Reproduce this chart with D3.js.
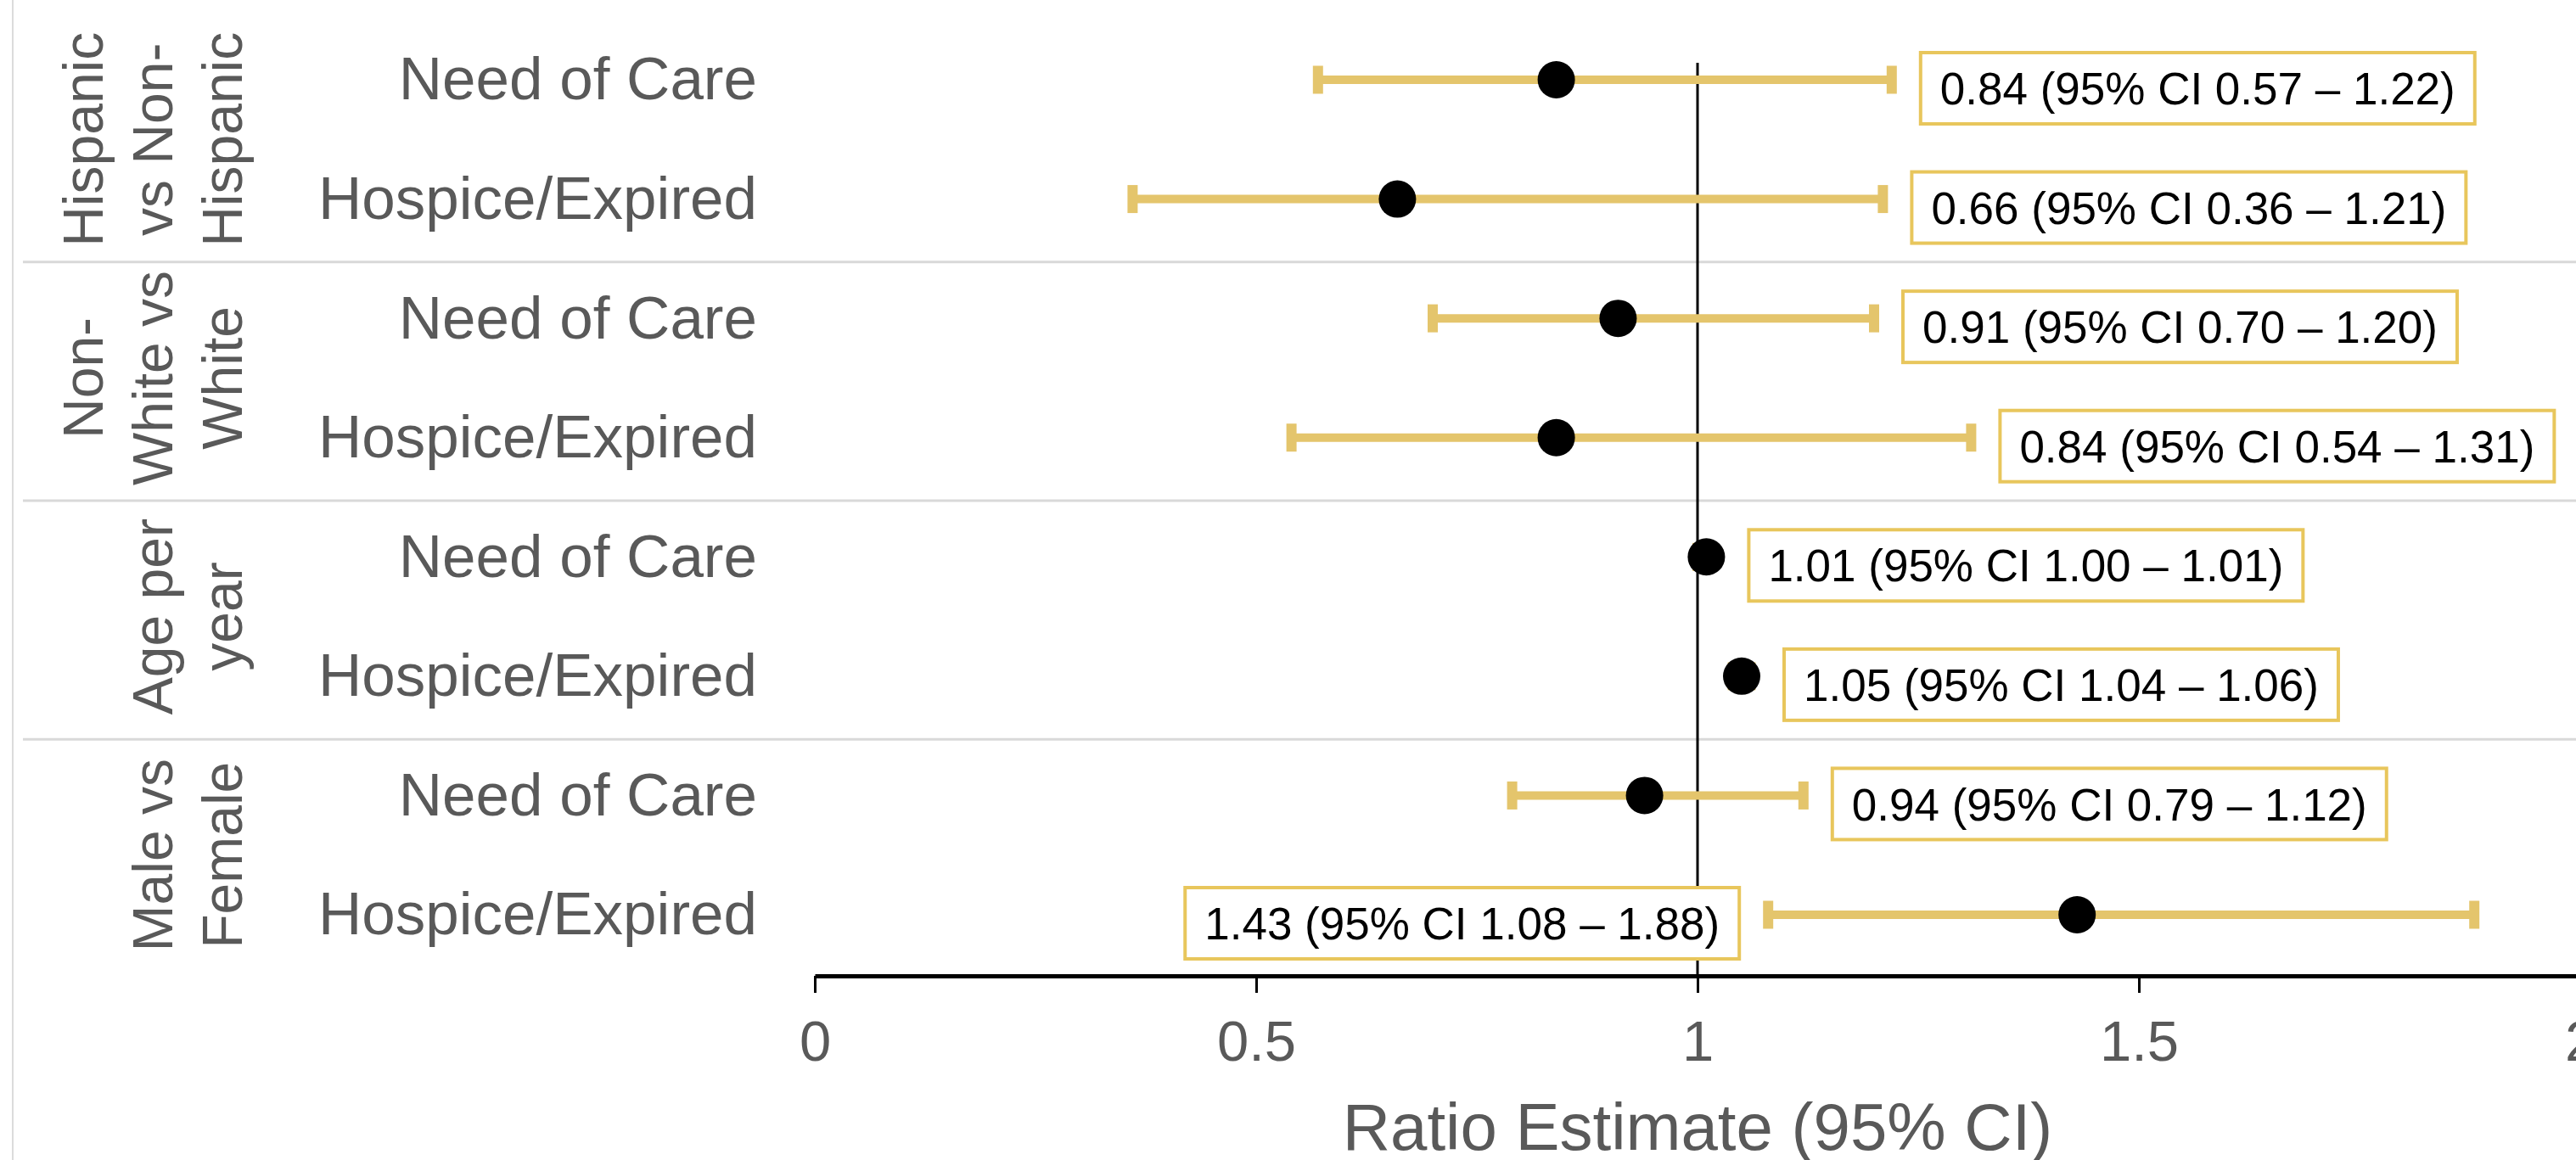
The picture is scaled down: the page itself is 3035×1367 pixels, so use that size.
<!DOCTYPE html>
<html>
<head>
<meta charset="utf-8">
<script src="https://cdn.jsdelivr.net/npm/d3@7"></script>
<style>
  html, body { margin: 0; padding: 0; background: #fff; }
  svg { display: block; font-family: "Liberation Sans", Arial, sans-serif; }
</style>
</head>
<body>
<svg id="chart" width="3035" height="1367"></svg>
<script>
// ---- data ----
const groupLines = [
  ["Hispanic", "vs Non-", "Hispanic"],
  ["Non-", "White vs", "White"],
  ["Age per", "year"],
  ["Male vs", "Female"]
];
const outcomes = ["Need of Care", "Hospice/Expired"];
const estimates = [0.84, 0.66, 0.91, 0.84, 1.01, 1.05, 0.94, 1.43];
const lower     = [0.57, 0.36, 0.70, 0.54, 1.00, 1.04, 0.79, 1.08];
const upper     = [1.22, 1.21, 1.20, 1.31, 1.01, 1.06, 1.12, 1.88];
const xTicks = [0, 0.5, 1, 1.5, 2];
const xTitle = "Ratio Estimate (95% CI)";

// ---- build rows ----
const rows = estimates.map((e, i) => ({
  id: i,
  group: Math.floor(i / 2),
  outcome: outcomes[i % 2],
  est: e, lo: lower[i], hi: upper[i]
}));
const fmt = d3.format(".2f");
rows.forEach(r => r.label = `${fmt(r.est)} (95% CI ${fmt(r.lo)} – ${fmt(r.hi)})`);

// ---- layout ----
const W = 3035, H = 1367;
const axisY = 1150;
const svg = d3.select("#chart");
const x = d3.scaleLinear().domain([0, 2]).range([960, 3040]);
const y = d3.scalePoint().domain(rows.map(r => r.id)).range([94, 1078]);

const grey = "#595959";
const barCol = "#E4C56C";
const boxCol = "#E8C65C";

// left border line
svg.append("line").attr("x1", 15).attr("x2", 15).attr("y1", 0).attr("y2", H)
  .attr("stroke", "#dcdcdc").attr("stroke-width", 2);

// group separators
for (let g = 1; g < groupLines.length; g++) {
  const yy = (y(g * 2 - 1) + y(g * 2)) / 2 + 4;
  svg.append("line").attr("x1", 27).attr("x2", W).attr("y1", yy).attr("y2", yy)
    .attr("stroke", "#d9d9d9").attr("stroke-width", 3);
}

// strip labels
groupLines.forEach((lines, g) => {
  const cy = (y(g * 2) + y(g * 2 + 1)) / 2;
  lines.forEach((t, i) => {
    const bx = 285 - (lines.length - 1 - i) * 82;
    svg.append("text")
      .attr("transform", `translate(${bx},${cy}) rotate(-90)`)
      .attr("text-anchor", "middle")
      .attr("font-size", 66)
      .attr("fill", grey)
      .text(t);
  });
});

// row labels
svg.append("g").selectAll("text").data(rows).join("text")
  .attr("x", 892).attr("y", d => y(d.id)).attr("dy", "0.33em")
  .attr("text-anchor", "end").attr("font-size", 71).attr("fill", grey)
  .text(d => d.outcome);

// reference line at 1
svg.append("line").attr("x1", x(1)).attr("x2", x(1))
  .attr("y1", y(0) - 20).attr("y2", axisY)
  .attr("stroke", "#000").attr("stroke-width", 3);

// error bars
const eb = svg.append("g");
eb.selectAll("line.bar").data(rows).join("line").attr("class", "bar")
  .attr("x1", d => x(d.lo)).attr("x2", d => x(d.hi))
  .attr("y1", d => y(d.id)).attr("y2", d => y(d.id))
  .attr("stroke", barCol).attr("stroke-width", 10);
rows.forEach(d => {
  [d.lo, d.hi].forEach(v => {
    eb.append("line").attr("x1", x(v)).attr("x2", x(v))
      .attr("y1", y(d.id) - 16.5).attr("y2", y(d.id) + 16.5)
      .attr("stroke", barCol).attr("stroke-width", 12);
  });
});

// points
svg.append("g").selectAll("circle").data(rows).join("circle")
  .attr("cx", d => x(d.est)).attr("cy", d => y(d.id)).attr("r", 22)
  .attr("fill", "#000");

// label boxes
const lg = svg.append("g");
rows.forEach(d => {
  const g = lg.append("g");
  const t = g.append("text").attr("font-size", 53).attr("fill", "#000").text(d.label);
  const tw = t.node().getComputedTextLength();
  const padX = 23, bh = 84, gap = 28;
  const bw = tw + 2 * padX;
  const cy = y(d.id) + 10;
  let left = Math.max(x(d.hi) + 6, x(d.est) + 22) + gap;
  if (left + bw > W) {
    const right = Math.min(x(d.lo) - 6, x(d.est) - 22) - gap;
    left = right - bw;
  }
  g.insert("rect", "text")
    .attr("x", left).attr("y", cy - bh / 2).attr("width", bw).attr("height", bh)
    .attr("fill", "#fff").attr("stroke", boxCol).attr("stroke-width", 4);
  t.attr("x", left + padX).attr("y", cy).attr("dy", "0.36em");
});

// x axis
const axis = d3.axisBottom(x).tickValues(xTicks).tickFormat(d3.format("~g"))
  .tickSize(20).tickSizeOuter(0).tickPadding(32);
const ax = svg.append("g").attr("transform", `translate(0,${axisY})`).call(axis);
ax.select(".domain").attr("stroke", "#000").attr("stroke-width", 5);
ax.selectAll(".tick line").attr("stroke", "#000").attr("stroke-width", 3);
ax.selectAll(".tick text").attr("font-size", 67).attr("fill", grey)
  .attr("font-family", "Liberation Sans, Arial, sans-serif");

// x title
svg.append("text").attr("x", (x(0) + x(2)) / 2).attr("y", 1355)
  .attr("text-anchor", "middle").attr("font-size", 78).attr("fill", grey)
  .text(xTitle);
</script>
</body>
</html>
